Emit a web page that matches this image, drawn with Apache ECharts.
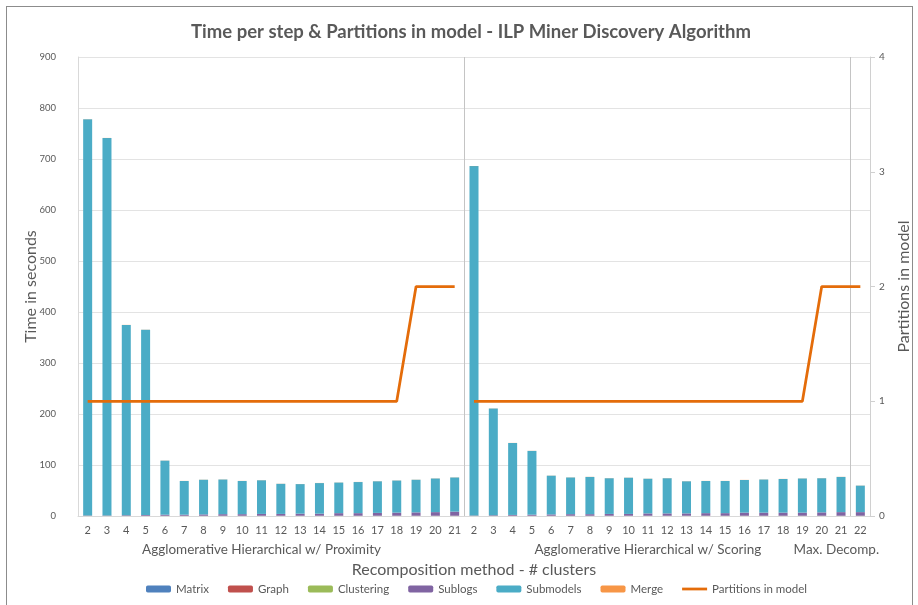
<!DOCTYPE html>
<html>
<head>
<meta charset="utf-8">
<script src="https://cdn.jsdelivr.net/npm/echarts@6/dist/echarts.min.js"></script>
<style>
  html, body { margin: 0; padding: 0; background: #fff; }
  #frame { position: absolute; left: 6px; top: 6px; width: 905px; height: 620px; border: 1px solid #8c8c8c; }
  #chart { position: absolute; left: 0; top: 0; width: 918px; height: 605px; }
</style>
</head>
<body>
<div id="frame"></div>
<div id="chart"></div>
<script>
// groups on the x axis and the # clusters of each group
var groups = ['Agglomerative Hierarchical w/ Proximity', 'Agglomerative Hierarchical w/ Scoring', 'Max. Decomp.']
var clustersProximity = [2, 3, 4, 5, 6, 7, 8, 9, 10, 11, 12, 13, 14, 15, 16, 17, 18, 19, 20, 21]
var clustersScoring = [2, 3, 4, 5, 6, 7, 8, 9, 10, 11, 12, 13, 14, 15, 16, 17, 18, 19, 20, 21]
var clustersMaxDecomp = [22]

// time per step (seconds), proximity | scoring | max decomp
var matrix = [0.2, 0.2, 0.2, 0.2, 0.2, 0.2, 0.2, 0.2, 0.2, 0.2, 0.2, 0.2, 0.2, 0.2, 0.2, 0.2, 0.2, 0.2, 0.2, 0.2,
  0.2, 0.2, 0.2, 0.2, 0.2, 0.2, 0.2, 0.2, 0.2, 0.2, 0.2, 0.2, 0.2, 0.2, 0.2, 0.2, 0.2, 0.2, 0.2, 0.2,
  0.2]
var graph = [0.3, 0.3, 0.3, 0.3, 0.3, 0.3, 0.3, 0.3, 0.3, 0.3, 0.3, 0.3, 0.3, 0.3, 0.3, 0.3, 0.3, 0.3, 0.3, 0.3,
  0.3, 0.3, 0.3, 0.3, 0.3, 0.3, 0.3, 0.3, 0.3, 0.3, 0.3, 0.3, 0.3, 0.3, 0.3, 0.3, 0.3, 0.3, 0.3, 0.3,
  0.3]
var clustering = [0.1, 0.1, 0.1, 0.1, 0.1, 0.1, 0.1, 0.1, 0.1, 0.1, 0.1, 0.1, 0.1, 0.1, 0.1, 0.1, 0.1, 0.1, 0.1, 0.1,
  0.1, 0.1, 0.1, 0.1, 0.1, 0.1, 0.1, 0.1, 0.1, 0.1, 0.1, 0.1, 0.1, 0.1, 0.1, 0.1, 0.1, 0.1, 0.1, 0.1,
  0.1]
var sublogs = [0.5, 0.5, 1, 1.5, 2, 2, 2.5, 3, 3, 3.5, 3.5, 4, 4, 5, 5, 5.5, 6, 6.5, 7, 8,
  0.5, 1, 1.5, 2, 2.5, 3, 3, 3.5, 3.5, 4.5, 4.5, 4.5, 5, 5, 6, 6, 6, 6, 6.5, 7,
  7]
var submodels = [777, 740, 373, 363, 106, 66, 68, 68, 65, 66, 59, 58, 60, 60, 61, 62, 63, 64, 66, 67,
  685, 209, 141, 125, 76, 72, 73, 70, 71, 68, 69, 63, 63, 63, 64, 65, 66, 67, 67, 69,
  52]
var merge = [0.2, 0.2, 0.2, 0.2, 0.2, 0.2, 0.2, 0.2, 0.2, 0.2, 0.2, 0.2, 0.2, 0.2, 0.2, 0.2, 0.2, 0.2, 0.2, 0.2,
  0.2, 0.2, 0.2, 0.2, 0.2, 0.2, 0.2, 0.2, 0.2, 0.2, 0.2, 0.2, 0.2, 0.2, 0.2, 0.2, 0.2, 0.2, 0.2, 0.2,
  0.2]

// partitions in model
var partsProximity = [1, 1, 1, 1, 1, 1, 1, 1, 1, 1, 1, 1, 1, 1, 1, 1, 1, 2, 2, 2]
var partsScoring = [1, 1, 1, 1, 1, 1, 1, 1, 1, 1, 1, 1, 1, 1, 1, 1, 1, 1, 2, 2]
var partsMaxDecomp = [2]

var yTicks = { min: 0, max: 900, interval: 100 }
var y2Ticks = { min: 0, max: 4, interval: 1 }

var clusterLists = [clustersProximity, clustersScoring, clustersMaxDecomp]
var categories = []
var groupStart = []
var groupMid = {}
clusterLists.forEach(function (list, g) {
  groupStart.push(categories.length)
  groupMid[categories.length + Math.floor((list.length - 1) / 2)] = g
  list.forEach(function (c) { categories.push(g + '|' + c) })
})

var nP = clustersProximity.length
var lineProx = categories.map(function (c, i) { return i < nP ? partsProximity[i] : null })
var lineScore = categories.map(function (c, i) {
  if (i < nP) return null
  return partsScoring.concat(partsMaxDecomp)[i - nP]
})

var font = 'Lato'
var txt = '#595959'
var orange = '#e46c0a'

function barSeries(name, data, color) {
  return {
    name: name,
    type: 'bar',
    stack: 'time',
    barWidth: 9,
    itemStyle: { color: color },
    data: data
  }
}

function lineSeries(data) {
  return {
    name: 'Partitions in model',
    type: 'line',
    yAxisIndex: 1,
    symbol: 'none',
    lineStyle: { color: orange, width: 2.75 },
    itemStyle: { color: orange },
    data: data
  }
}

var chart = echarts.init(document.getElementById('chart'))
chart.setOption({
  animation: false,
  textStyle: { fontFamily: font },
  title: {
    text: 'Time per step & Partitions in model - ILP Miner Discovery Algorithm',
    left: 466,
    textAlign: 'center',
    top: 18,
    textStyle: { fontFamily: font, fontSize: 18.5, fontWeight: 'bold', color: txt }
  },
  legend: {
    bottom: 5,
    left: 141,
    itemWidth: 25,
    itemHeight: 7,
    itemGap: 19,
    textStyle: { fontFamily: font, fontSize: 11.5, color: txt },
    data: ['Matrix', 'Graph', 'Clustering', 'Sublogs', 'Submodels', 'Merge',
      { name: 'Partitions in model', icon: 'path://M0,0h100v11h-100z' }]
  },
  grid: { left: 78, right: 48, top: 57, bottom: 89, outerBoundsMode: 'none' },
  xAxis: [
    {
      type: 'category',
      data: categories,
      axisLine: { lineStyle: { color: '#d9d9d9' } },
      axisTick: { show: false },
      axisLabel: {
        interval: 0,
        margin: 9,
        fontSize: 11,
        color: txt,
        formatter: function (v) { return v.split('|')[1] }
      },
      splitLine: {
        show: true,
        interval: function (index) { return groupStart.indexOf(index) > 0 },
        lineStyle: { color: '#c4c4c4', width: 1 }
      }
    },
    {
      type: 'category',
      data: categories,
      position: 'bottom',
      offset: 18,
      axisLine: { show: false },
      axisTick: { show: false },
      axisLabel: {
        interval: 0,
        margin: 9,
        fontSize: 13.5,
        color: txt,
        formatter: function (v, i) {
          if (groupMid[i] === undefined) return ''
          if (groupMid[i] === 2) return '{r|' + groups[2] + '}'
          return groups[groupMid[i]]
        },
        rich: { r: { fontSize: 13.5, color: txt, padding: [0, 48, 0, 0] } }
      },
      name: 'Recomposition method - # clusters',
      nameLocation: 'middle',
      nameGap: 28,
      nameMoveOverlap: false,
      nameTextStyle: { fontFamily: font, fontSize: 16, color: txt }
    }
  ],
  yAxis: [
    {
      type: 'value',
      min: yTicks.min,
      max: yTicks.max,
      interval: yTicks.interval,
      axisLine: { show: true, lineStyle: { color: '#d9d9d9' } },
      axisTick: { show: false },
      axisLabel: { fontSize: 9.5, color: txt, margin: 22 },
      splitLine: { lineStyle: { color: '#e3e3e3' } },
      name: 'Time in seconds',
      nameLocation: 'middle',
      nameGap: 39,
      nameMoveOverlap: false,
      nameTextStyle: { fontFamily: font, fontSize: 16, color: txt }
    },
    {
      type: 'value',
      min: y2Ticks.min,
      max: y2Ticks.max,
      interval: y2Ticks.interval,
      axisLine: { show: true, lineStyle: { color: '#d0d0d0' } },
      axisTick: { show: true, length: 5, lineStyle: { color: '#d0d0d0' } },
      axisLabel: { fontSize: 10, color: txt, margin: 9 },
      splitLine: { show: false },
      name: 'Partitions in model',
      nameLocation: 'middle',
      nameGap: 26,
      nameMoveOverlap: false,
      nameTextStyle: { fontFamily: font, fontSize: 16, color: txt }
    }
  ],
  series: [
    barSeries('Matrix', matrix, '#4f81bd'),
    barSeries('Graph', graph, '#c0504d'),
    barSeries('Clustering', clustering, '#9bbb59'),
    barSeries('Sublogs', sublogs, '#8064a2'),
    barSeries('Submodels', submodels, '#4bacc6'),
    barSeries('Merge', merge, '#f79646'),
    lineSeries(lineProx),
    lineSeries(lineScore)
  ]
})
</script>
</body>
</html>
